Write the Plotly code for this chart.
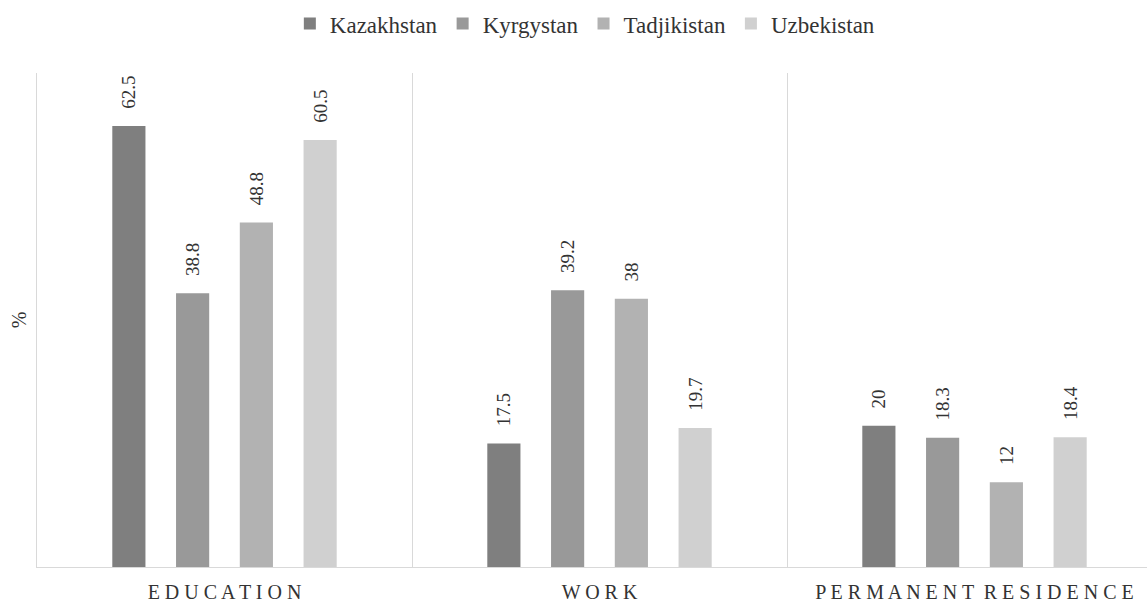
import plotly.graph_objects as go

categories = ["EDUCATION", "WORK", "PERMANENT RESIDENCE"]
countries = ["Kazakhstan", "Kyrgystan", "Tadjikistan", "Uzbekistan"]
kazakhstan = [62.5, 17.5, 20]
kyrgystan = [38.8, 39.2, 18.3]
tadjikistan = [48.8, 38, 12]
uzbekistan = [60.5, 19.7, 18.4]
series = [kazakhstan, kyrgystan, tadjikistan, uzbekistan]
colors = ["#7f7f7f", "#999999", "#b2b2b2", "#d0d0d0"]

FONT = "Liberation Serif"
TXT = "#333333"

def spaced(s):
    return "  ".join(" ".join(list(w)) for w in s.split(" "))

xpos = list(range(len(categories)))

fig = go.Figure()
for name, vals, col in zip(countries, series, colors):
    fig.add_trace(go.Bar(
        name=name, x=xpos, y=vals, marker=dict(color=col, line=dict(width=0)),
        text=[f"   {v:g}" for v in vals], textposition="outside", textangle=-90,
        constraintext="none", cliponaxis=False,
        textfont=dict(family=FONT, size=19, color=TXT),
    ))

fig.update_layout(
    width=1147, height=602,
    margin=dict(l=37, r=0, t=73, b=35),
    paper_bgcolor="white", plot_bgcolor="white",
    barmode="group", bargap=0.32, bargroupgap=0.48,
    font=dict(family=FONT, color=TXT, size=20),
    legend=dict(orientation="h", x=0.494, xanchor="center", y=1.1, yanchor="middle",
                itemwidth=30, traceorder="normal",
                font=dict(family=FONT, size=23, color=TXT)),
    showlegend=True,
)
fig.update_xaxes(
    range=[-0.5, 2.46], tickmode="array", tickvals=xpos,
    ticktext=[spaced(c) for c in categories],
    tickfont=dict(family=FONT, size=20, color=TXT),
    showgrid=False, showline=True, linecolor="#d9d9d9", linewidth=1,
    ticks="", ticklabelstandoff=7, zeroline=False, automargin=False,
    minor=dict(tick0=-0.5, dtick=1, showgrid=True, gridcolor="#d9d9d9", gridwidth=1, ticks=""),
)
fig.update_yaxes(
    range=[0, 70], showticklabels=False, showgrid=False, zeroline=False,
    showline=True, linecolor="#d9d9d9", linewidth=1, ticks="", automargin=False,
    title=dict(text="%", font=dict(family=FONT, size=20, color=TXT), standoff=4),
)

fig.write_html("out.html", config={"displayModeBar": False},
               post_script="document.body.style.margin='0';document.body.style.overflow='hidden';")
